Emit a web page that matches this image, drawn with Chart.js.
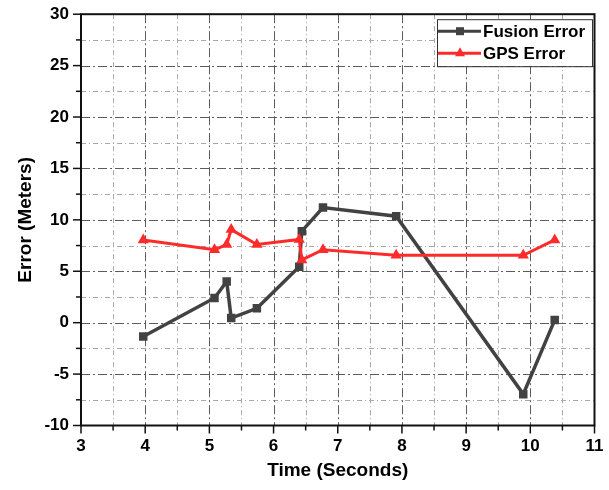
<!DOCTYPE html>
<html lang="en">
<head>
    <meta charset="UTF-8">
    <title>Fusion vs GPS Error</title>
    <script src="https://cdn.jsdelivr.net/npm/chart.js"></script>
    <style>
        body { margin: 0; background: #fff; }
        canvas { display: block; }
    </style>
</head>
<body>
    <canvas id="errorChart" width="609" height="490"></canvas>

    <script>
        // Data
        const timeSec = [3.97, 5.08, 5.27, 5.34, 5.74, 6.40, 6.44, 6.77, 7.91, 9.89, 10.38];
        const fusionError = [-1.35, 2.4, 4.0, 0.45, 1.4, 5.45, 8.9, 11.2, 10.35, -6.95, 0.25];
        const gpsError = [8.05, 7.1, 7.6, 9.05, 7.6, 8.1, 6.1, 7.1, 6.55, 6.55, 8.05];
        const seriesNames = ['Fusion Error', 'GPS Error'];

        const fusionColor = '#424242';
        const gpsColor = '#ff2b2b';
        const fontFamily = '"Liberation Sans", Arial, sans-serif';

        const toPoints = (xs, ys) => xs.map((x, i) => ({ x: x, y: ys[i] }));

        // Origin-style grid, frame and ticks drawn using the chart scales
        const originFrame = {
            id: 'originFrame',
            beforeDatasetsDraw(chart) {
                const { ctx, chartArea: a, scales: { x, y } } = chart;
                ctx.save();
                ctx.lineWidth = 1;
                // minor grid
                ctx.strokeStyle = '#a8a8a8';
                ctx.setLineDash([5, 3, 1, 3]);
                for (let v = 3.5; v < 11; v += 1) {
                    const px = Math.round(x.getPixelForValue(v)) + 0.5;
                    ctx.beginPath(); ctx.moveTo(px, a.top); ctx.lineTo(px, a.bottom); ctx.stroke();
                }
                for (let v = -7.5; v < 30; v += 5) {
                    const py = Math.round(y.getPixelForValue(v)) + 0.5;
                    ctx.beginPath(); ctx.moveTo(a.left, py); ctx.lineTo(a.right, py); ctx.stroke();
                }
                // major grid
                ctx.strokeStyle = '#5c5c5c';
                ctx.setLineDash([9, 3, 2, 3]);
                for (let v = 4; v < 11; v += 1) {
                    const px = Math.round(x.getPixelForValue(v)) + 0.5;
                    ctx.beginPath(); ctx.moveTo(px, a.top); ctx.lineTo(px, a.bottom); ctx.stroke();
                }
                for (let v = -5; v < 30; v += 5) {
                    const py = Math.round(y.getPixelForValue(v)) + 0.5;
                    ctx.beginPath(); ctx.moveTo(a.left, py); ctx.lineTo(a.right, py); ctx.stroke();
                }
                ctx.restore();
            },
            afterDatasetsDraw(chart) {
                const { ctx, chartArea: a, scales: { x, y } } = chart;
                ctx.save();
                ctx.strokeStyle = '#111';
                ctx.setLineDash([]);
                ctx.lineWidth = 2;
                ctx.strokeRect(a.left, a.top, a.right - a.left, a.bottom - a.top);

                // tick marks (outward), major and minor
                ctx.lineWidth = 1.5;
                for (let v = 3; v <= 11; v += 0.5) {
                    const px = x.getPixelForValue(v);
                    const len = Number.isInteger(v) ? 8 : 5;
                    ctx.beginPath(); ctx.moveTo(px, a.bottom); ctx.lineTo(px, a.bottom + len); ctx.stroke();
                }
                for (let v = -10; v <= 30; v += 2.5) {
                    const py = y.getPixelForValue(v);
                    const len = v % 5 === 0 ? 8 : 5;
                    ctx.beginPath(); ctx.moveTo(a.left, py); ctx.lineTo(a.left - len, py); ctx.stroke();
                }

                // legend box
                const bx = a.left + 356, by = a.top + 5, bw = 155, bh = 47;
                ctx.fillStyle = '#fff';
                ctx.fillRect(bx, by, bw, bh);
                ctx.lineWidth = 1;
                ctx.strokeStyle = '#333';
                ctx.strokeRect(bx + 0.5, by + 0.5, bw, bh);

                const rows = [
                    { name: seriesNames[0], color: fusionColor, marker: 'rect' },
                    { name: seriesNames[1], color: gpsColor, marker: 'triangle' }
                ];
                rows.forEach((r, i) => {
                    const cy = by + 12 + i * 22;
                    ctx.strokeStyle = r.color;
                    ctx.lineWidth = 3;
                    ctx.beginPath(); ctx.moveTo(bx + 1, cy); ctx.lineTo(bx + 44, cy); ctx.stroke();
                    ctx.fillStyle = r.color;
                    if (r.marker === 'rect') {
                        ctx.fillRect(bx + 19, cy - 4, 8, 8);
                    } else {
                        ctx.beginPath();
                        ctx.moveTo(bx + 23, cy - 6);
                        ctx.lineTo(bx + 28, cy + 3);
                        ctx.lineTo(bx + 18, cy + 3);
                        ctx.closePath(); ctx.fill();
                    }
                    ctx.fillStyle = '#000';
                    ctx.font = 'bold 17px ' + fontFamily;
                    ctx.textBaseline = 'middle';
                    ctx.fillText(r.name, bx + 46, cy + 1);
                });
                ctx.restore();
            }
        };

        const ctx = document.getElementById('errorChart').getContext('2d');

        const config = {
            type: 'scatter',
            data: {
                datasets: [{
                    label: seriesNames[0],
                    data: toPoints(timeSec, fusionError),
                    showLine: true,
                    borderColor: fusionColor,
                    backgroundColor: fusionColor,
                    borderWidth: 3.5,
                    pointStyle: 'rect',
                    pointRadius: 6,
                    pointBorderWidth: 0,
                    order: 1
                }, {
                    label: seriesNames[1],
                    data: toPoints(timeSec, gpsError),
                    showLine: true,
                    borderColor: gpsColor,
                    backgroundColor: gpsColor,
                    borderWidth: 3,
                    pointStyle: 'triangle',
                    pointRadius: 6.5,
                    pointBorderWidth: 0,
                    order: 0
                }]
            },
            options: {
                responsive: false,
                animation: false,
                layout: { padding: { top: 13, right: 14.5, bottom: 0, left: 0 } },
                plugins: {
                    legend: { display: false },
                    tooltip: { enabled: false }
                },
                scales: {
                    x: {
                        type: 'linear',
                        min: 3, max: 11,
                        afterFit: (scale) => { scale.height = 64.5; },
                        grid: { color: 'transparent', tickLength: 8 },
                        border: { display: false },
                        ticks: {
                            stepSize: 1,
                            padding: 3,
                            color: '#000',
                            font: { family: fontFamily, size: 17, weight: 'bold' }
                        },
                        title: {
                            display: true,
                            text: 'Time (Seconds)',
                            color: '#000',
                            padding: { top: 0, bottom: 8 },
                            font: { family: fontFamily, size: 19, weight: 'bold' }
                        }
                    },
                    y: {
                        min: -10, max: 30,
                        afterFit: (scale) => { scale.width = 81; },
                        grid: { color: 'transparent', tickLength: 8 },
                        border: { display: false },
                        ticks: {
                            stepSize: 5,
                            padding: 4,
                            color: '#000',
                            font: { family: fontFamily, size: 17, weight: 'bold' }
                        },
                        title: {
                            display: true,
                            text: 'Error (Meters)',
                            color: '#000',
                            padding: { top: 14, bottom: 0 },
                            font: { family: fontFamily, size: 19, weight: 'bold' }
                        }
                    }
                }
            },
            plugins: [originFrame]
        };

        const errorChart = new Chart(ctx, config);
    </script>
</body>
</html>
